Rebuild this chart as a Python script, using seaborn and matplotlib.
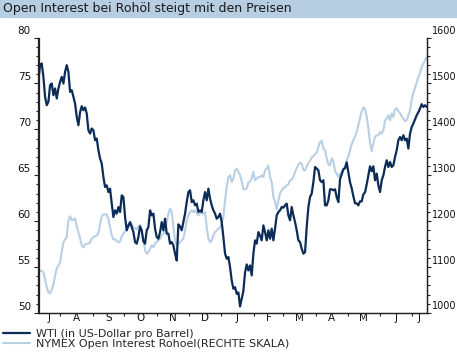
import pandas as pd
import matplotlib
matplotlib.use("Agg")
import matplotlib.pyplot as plt
import matplotlib.dates as mdates
from matplotlib.ticker import MultipleLocator, NullFormatter, FixedLocator, FixedFormatter
from matplotlib.transforms import ScaledTranslation
from matplotlib.patches import Rectangle
import seaborn as sns

# WTI in US-Dollar pro Barrel (linke Skala)
wti = [
    75.35, 76.99, 77.18, 75.71, 73.53, 72.63, 72.99, 74.81, 74.99, 73.72,
    74.45, 73.36, 74.45, 75.17, 75.71, 74.99, 76.26, 76.99, 76.26, 74.08,
    74.26, 73.53, 72.81, 71.35, 70.45, 71.86, 72.52, 72.08, 72.38, 71.72,
    69.90, 69.54, 70.09, 69.90, 68.81, 69.00, 67.72, 66.82, 66.27, 64.81,
    63.72, 63.90, 63.17, 63.54, 61.91, 60.45, 61.18, 60.82, 61.54, 60.99,
    62.81, 62.63, 60.45, 59.00, 59.54, 59.90, 59.36, 58.81, 57.72, 57.55,
    58.27, 59.43, 59.00, 57.80, 57.55, 59.00, 59.36, 61.18, 60.63, 60.82,
    59.18, 58.27, 58.09, 58.81, 59.90, 59.00, 60.27, 58.64, 58.64, 57.55,
    57.72, 57.36, 56.46, 55.72, 59.65, 59.43, 59.00, 59.90, 60.82, 62.08,
    63.17, 63.36, 62.08, 62.27, 61.72, 61.91, 60.99, 61.18, 60.99, 62.27,
    63.17, 62.27, 63.54, 62.45, 61.72, 61.18, 60.82, 60.27, 60.45, 60.82,
    59.90, 58.27, 56.46, 55.91, 56.09, 54.99, 53.54, 52.64, 52.81, 52.09,
    52.24, 50.71, 51.58, 52.40, 54.42, 55.29, 54.63, 55.18, 54.09, 56.46,
    57.91, 57.55, 58.81, 58.45, 57.91, 59.54, 58.81, 57.91, 59.00, 58.09,
    59.18, 57.91, 59.18, 60.63, 60.99, 61.18, 61.54, 61.47, 61.72, 61.91,
    60.63, 60.09, 61.54, 60.63, 59.90, 59.00, 57.91, 57.72, 57.00, 56.46,
    56.63, 59.36, 61.54, 62.63, 63.00, 64.26, 65.90, 65.73, 65.54, 64.45,
    64.26, 64.45, 61.72, 61.72, 62.27, 63.47, 63.47, 63.36, 63.47, 62.60,
    62.08, 64.56, 65.10, 65.65, 65.76, 66.41, 65.32, 64.23, 63.58, 62.70,
    61.94, 61.94, 61.72, 62.16, 62.16, 62.92, 63.14, 64.01, 64.99, 65.98,
    65.43, 65.98, 64.45, 65.18, 63.90, 63.17, 64.45, 64.99, 65.90, 66.63,
    65.90, 66.45, 65.90, 66.09, 66.99, 67.72, 68.81, 69.17, 68.81, 69.36,
    68.81, 69.00, 67.91, 69.54, 70.26, 70.63, 71.10, 71.54, 71.86, 72.27,
    72.74, 72.44, 72.63, 72.44,
]

# NYMEX Open Interest Rohoel in Tsd. Kontrakten (rechte Skala)
open_interest = [
    1090.5, 1091.6, 1091.6, 1088.3, 1073.1, 1055.6, 1045.8, 1042.5, 1051.3, 1062.2,
    1081.8, 1097.1, 1103.6, 1110.1, 1134.1, 1153.8, 1160.3, 1165.3, 1201.7, 1210.5,
    1201.7, 1203.9, 1206.1, 1188.7, 1175.6, 1162.5, 1147.2, 1142.9, 1149.4, 1150.9,
    1150.9, 1153.8, 1162.5, 1165.3, 1166.8, 1169.0, 1173.4, 1193.0, 1210.5, 1214.8,
    1214.8, 1214.8, 1203.9, 1186.5, 1169.0, 1160.3, 1160.3, 1157.0, 1153.8, 1155.9,
    1166.8, 1173.4, 1177.8, 1182.1, 1187.1, 1190.8, 1193.0, 1187.1, 1184.3, 1182.1,
    1188.7, 1191.9, 1175.6, 1158.1, 1136.3, 1129.1, 1132.6, 1140.0, 1147.2, 1143.5,
    1150.9, 1154.4, 1158.1, 1161.8, 1169.0, 1172.7, 1179.9, 1198.0, 1216.4, 1227.3,
    1219.8, 1187.1, 1158.1, 1147.2, 1150.9, 1154.4, 1158.1, 1161.8, 1179.9, 1201.7,
    1212.6, 1219.8, 1223.6, 1219.8, 1223.6, 1216.4, 1212.6, 1216.4, 1219.8, 1216.4,
    1219.8, 1187.1, 1161.8, 1154.4, 1158.1, 1169.0, 1176.2, 1179.9, 1183.6, 1187.1,
    1194.5, 1208.9, 1245.4, 1274.4, 1296.2, 1299.9, 1285.3, 1292.7, 1310.8, 1314.5,
    1307.1, 1299.9, 1286.8, 1269.4, 1269.4, 1271.5, 1283.5, 1286.8, 1292.7, 1307.1,
    1289.0, 1292.7, 1296.2, 1296.2, 1299.9, 1296.2, 1310.8, 1314.5, 1321.7, 1296.2,
    1285.3, 1252.6, 1241.7, 1225.7, 1245.4, 1260.0, 1267.2, 1273.1, 1273.1, 1278.1,
    1280.3, 1289.0, 1290.5, 1296.2, 1307.1, 1315.8, 1323.2, 1327.6, 1325.4, 1310.8,
    1310.8, 1319.5, 1326.7, 1331.1, 1338.5, 1342.0, 1345.7, 1349.4, 1361.6, 1372.5,
    1374.7, 1358.1, 1354.4, 1337.0, 1323.9, 1321.7, 1337.0, 1330.4, 1308.6, 1303.6,
    1296.2, 1303.6, 1307.5, 1313.0, 1319.5, 1332.6, 1341.3, 1354.4, 1367.5, 1376.2,
    1384.9, 1394.8, 1408.9, 1424.2, 1439.5, 1448.2, 1443.8, 1427.0, 1402.4, 1369.7,
    1352.2, 1370.8, 1383.4, 1387.1, 1387.1, 1394.3, 1390.8, 1398.0, 1419.8, 1423.6,
    1430.7, 1419.8, 1434.5, 1427.0, 1443.8, 1446.0, 1439.5, 1435.1, 1428.6, 1424.2,
    1417.7, 1419.8, 1430.7, 1441.7, 1463.5, 1479.8, 1490.7, 1501.6, 1514.3, 1523.4,
    1536.1, 1543.5, 1550.7, 1556.2,
]

dates = pd.date_range("2006-07-11 10:00", "2007-07-15 05:00", periods=len(wti))
month_letters = ["J", "A", "S", "O", "N", "D", "J", "F", "M", "A", "M", "J", "J"]
labels = ["WTI (in US-Dollar pro Barrel)", "NYMEX Open Interest Rohoel(RECHTE SKALA)"]

sns.set_style("ticks")
plt.rcParams["font.family"] = ["DejaVu Sans"]

dark = "#0c2c58"
light = "#b8cfe4"
axis_col = "#222222"

df = pd.DataFrame({"Datum": dates, "WTI": wti, "OI": open_interest})

fig = plt.figure(figsize=(4.57, 3.52), dpi=100)
W, H = 457, 352
ax = fig.add_axes([38.5 / W, 1 - 313 / H, (427 - 38.5) / W, (313 - 37.5) / H])
ax2 = ax.twinx()

sns.lineplot(data=df, x="Datum", y="OI", ax=ax2, color=light, lw=1.5, legend=False)
sns.lineplot(data=df, x="Datum", y="WTI", ax=ax, color=dark, lw=1.6, legend=False)
ax.set_zorder(ax2.get_zorder() + 1)
ax.patch.set_visible(False)

xmin = pd.Timestamp("2006-07-11 12:00")
xmax = pd.Timestamp("2007-07-15 12:00")
ax.set_xlim(xmin, xmax)
ax.set_ylim(50, 80)
ax2.set_ylim(1000, 1600)
ax.set_xlabel("")
ax.set_ylabel("")
ax2.set_ylabel("")

for a in (ax, ax2):
    a.spines["top"].set_visible(False)
    for s in a.spines.values():
        s.set_color(axis_col)
        s.set_linewidth(0.9)
    a.grid(False)

ax.yaxis.set_major_locator(MultipleLocator(5))
ax.yaxis.set_minor_locator(MultipleLocator(1))
ax2.yaxis.set_major_locator(MultipleLocator(100))
ax2.yaxis.set_minor_locator(MultipleLocator(20))
ax.tick_params(axis="y", which="major", length=3.5, width=0.8, color=axis_col,
               labelsize=7.5, pad=2, labelcolor="#111111")
ax.tick_params(axis="y", which="minor", length=2.5, width=0.8, color=axis_col)
ax2.tick_params(axis="y", which="major", length=3, width=0.8, color=axis_col,
                labelsize=7, pad=0.5, labelcolor="#111111")
ax2.tick_params(axis="y", which="minor", length=2.5, width=0.8, color=axis_col)

# month boundaries as ticks, letters centred in the visible part of each month
starts = pd.date_range("2006-07-01", "2007-08-01", freq="MS")
mids = []
for s, e in zip(starts[:-1], starts[1:]):
    a0, a1 = max(s, xmin), min(e, xmax)
    mids.append(mdates.date2num(a0 + (a1 - a0) / 2))
ax.xaxis.set_major_locator(mdates.MonthLocator())
ax.xaxis.set_major_formatter(NullFormatter())
ax.xaxis.set_minor_locator(FixedLocator(mids))
ax.xaxis.set_minor_formatter(FixedFormatter(month_letters))
ax.tick_params(axis="x", which="major", length=2.5, width=0.8, color=axis_col)
ax.tick_params(axis="x", which="minor", length=0, labelsize=7.5, pad=0, labelcolor="#111111")

# labels sit slightly above their tick
shift = ScaledTranslation(0, 0.075, fig.dpi_scale_trans)
for t in ax.yaxis.get_major_ticks():
    t.label1.set_transform(t.label1.get_transform() + shift)
for t in ax2.yaxis.get_major_ticks():
    t.label2.set_transform(t.label2.get_transform() + shift)

# title bar
fig.patches.append(Rectangle((0, 1 - 17 / H), 1, 17 / H, transform=fig.transFigure,
                             color="#b6cde2", zorder=0))
fig.text(3 / W, 1 - 8.5 / H, "Open Interest bei Rohöl steigt mit den Preisen",
         ha="left", va="center", fontsize=9, color="#1a1a1a")

handles = [ax.get_lines()[0], ax2.get_lines()[0]]
fig.legend(handles, labels, loc="lower left", bbox_to_anchor=(0.0, 0.0),
           frameon=False, fontsize=8, handlelength=2.4, handletextpad=0.5,
           labelspacing=0.0, borderpad=0.2, borderaxespad=0.1)

fig.savefig("out.png", dpi=100, facecolor="white")
